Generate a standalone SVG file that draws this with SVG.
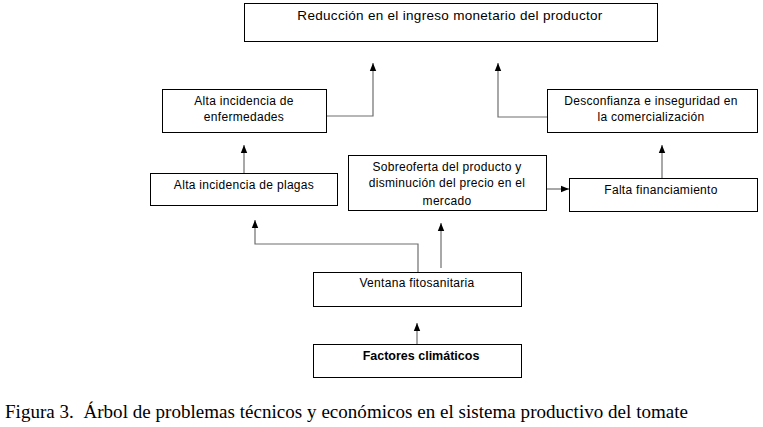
<svg xmlns="http://www.w3.org/2000/svg" width="763" height="427" viewBox="0 0 763 427">
<defs>
<marker id="ah" markerWidth="9" markerHeight="8" refX="8" refY="4" orient="auto" markerUnits="userSpaceOnUse">
<path d="M0,0.8 L8,4 L0,7.2 Z" fill="#000"/>
</marker>
<style>
.box{fill:#fff;stroke:#000;stroke-width:1}
.t{font-family:"Liberation Sans",Arial,sans-serif;font-size:12px;fill:#000;text-anchor:middle;letter-spacing:0.3px}
.tb{font-family:"Liberation Sans",Arial,sans-serif;font-size:12.5px;font-weight:bold;fill:#000;text-anchor:middle}
.c{fill:none;stroke:#6e6e6e;stroke-width:1.2;marker-end:url(#ah)}
.cap{font-family:"Liberation Serif","Times New Roman",serif;font-size:19px;fill:#000;white-space:pre}
</style>
</defs>
<rect width="763" height="427" fill="#fff"/>
<g id="connectors">
<path class="c" d="M326,116 H373 V63"/>
<path class="c" d="M547,117 H498 V63"/>
<path class="c" d="M244,173 V145"/>
<path class="c" d="M662,178 V145"/>
<path class="c" d="M547,189 H569"/>
<path class="c" d="M441,268 V223"/>
<path class="c" d="M418,272 V244 H255 V220"/>
<path class="c" d="M417,344 V323"/>
</g>
<g id="n_reduccion">
<rect class="box" x="244.5" y="3.5" width="413" height="38"/>
<text class="t" x="450" y="20" style="font-size:13.5px">Reducción en el ingreso monetario del productor</text>
</g>
<g id="n_enfermedades">
<rect class="box" x="162.5" y="89.5" width="164" height="43"/>
<text class="t" x="244" y="105">Alta incidencia de</text>
<text class="t" x="244" y="121">enfermedades</text>
</g>
<g id="n_desconfianza">
<rect class="box" x="547.5" y="89.5" width="210" height="43"/>
<text class="t" x="651" y="105">Desconfianza e inseguridad en</text>
<text class="t" x="651" y="121">la comercialización</text>
</g>
<g id="n_plagas">
<rect class="box" x="150.5" y="173.5" width="187" height="32"/>
<text class="t" x="244" y="189">Alta incidencia de plagas</text>
</g>
<g id="n_sobreoferta">
<rect class="box" x="348.5" y="155.5" width="198" height="55"/>
<text class="t" x="447" y="171">Sobreoferta del producto y</text>
<text class="t" x="447" y="187">disminución del precio en el</text>
<text class="t" x="447" y="205">mercado</text>
</g>
<g id="n_falta">
<rect class="box" x="569.5" y="178.5" width="188" height="33"/>
<text class="t" x="661" y="194">Falta financiamiento</text>
</g>
<g id="n_ventana">
<rect class="box" x="313.5" y="272.5" width="208" height="34"/>
<text class="t" x="417" y="287">Ventana fitosanitaria</text>
</g>
<g id="n_factores">
<rect class="box" x="313.5" y="344.5" width="208" height="33"/>
<text class="tb" x="421" y="360">Factores climáticos</text>
</g>
<text class="cap" x="5" y="418" textLength="683" lengthAdjust="spacing">Figura 3.  Árbol de problemas técnicos y económicos en el sistema productivo del tomate</text>
</svg>
